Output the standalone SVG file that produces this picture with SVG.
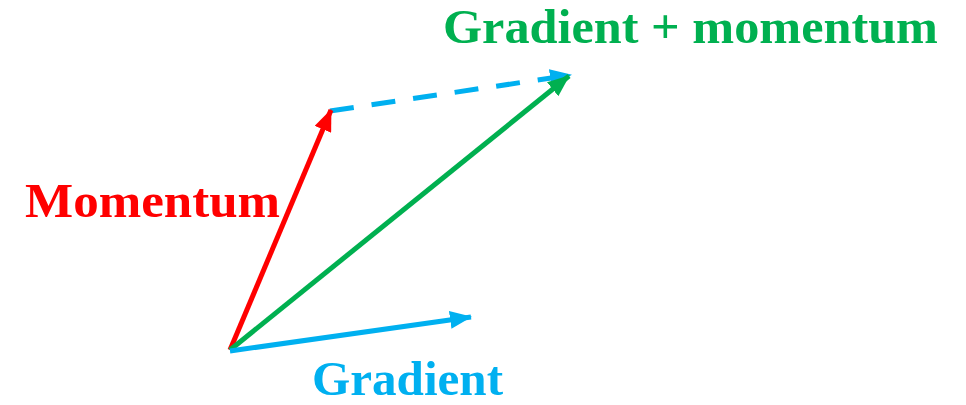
<svg xmlns="http://www.w3.org/2000/svg" width="966" height="405" viewBox="0 0 966 405">
<style>
.lbl{font-family:"Liberation Serif","Times New Roman",serif;font-weight:bold;font-size:48px}
.v{stroke-width:5;fill:none;stroke-linecap:butt}
</style>
<defs>
<marker id="hr" viewBox="0 0 22 18" markerWidth="22" markerHeight="18" refX="21" refY="9" orient="auto" markerUnits="userSpaceOnUse"><path d="M0,0 L22,9 L0,18 z" fill="#FF0000"/></marker>
<marker id="hg" viewBox="0 0 22 18" markerWidth="22" markerHeight="18" refX="21" refY="9" orient="auto" markerUnits="userSpaceOnUse"><path d="M0,0 L22,9 L0,18 z" fill="#00B050"/></marker>
<marker id="hb" viewBox="0 0 22 18" markerWidth="22" markerHeight="18" refX="21" refY="9" orient="auto" markerUnits="userSpaceOnUse"><path d="M0,0 L22,9 L0,18 z" fill="#00B0F0"/></marker>
</defs>
<rect width="966" height="405" fill="#FFFFFF"/>
<g id="connectors">
<line class="v" x1="330" y1="111" x2="571" y2="75" stroke="#00B0F0" stroke-dasharray="24 18" marker-end="url(#hb)"/>
<line class="v" x1="230" y1="350" x2="331" y2="110" stroke="#FF0000" marker-end="url(#hr)"/>
<line class="v" x1="230" y1="350" x2="569" y2="76" stroke="#00B050" marker-end="url(#hg)"/>
<line class="v" x1="230" y1="351" x2="471" y2="317" stroke="#00B0F0" marker-end="url(#hb)"/>
</g>
<g id="label-sum"><text class="lbl" x="443" y="43" fill="#00B050" textLength="495" lengthAdjust="spacingAndGlyphs">Gradient + momentum</text></g>
<g id="label-momentum"><text class="lbl" x="25" y="217" fill="#FF0000" textLength="255" lengthAdjust="spacingAndGlyphs">Momentum</text></g>
<g id="label-gradient"><text class="lbl" x="312" y="395" fill="#00B0F0" font-size="46" textLength="191" lengthAdjust="spacingAndGlyphs">Gradient</text></g>
</svg>
